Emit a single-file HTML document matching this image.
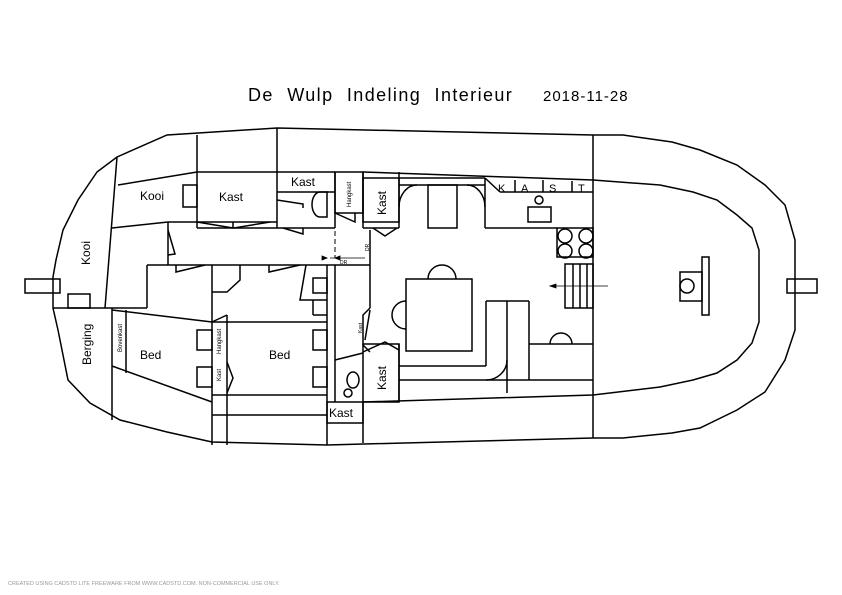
<!DOCTYPE html>
<html><head><meta charset="utf-8"><style>
html,body{margin:0;padding:0;background:#fff}
svg{display:block}
text{font-family:"Liberation Sans",sans-serif;fill:#000}
</style></head><body>
<svg width="842" height="595" viewBox="0 0 842 595" xmlns="http://www.w3.org/2000/svg">
<g fill="none" stroke="#000" stroke-width="1.5" stroke-linejoin="miter">
<polyline points="277,128 167,135 117,157 97,172 78,200 63,230 56,260 53,277 53,308 58,330 68,380 90,403 120,420 167,432 212,442 327,445 593,438 623,438 672,433 700,428 737,410 765,392 785,360 795,330 795,240 785,205 765,185 737,165 700,150 672,142 623,135 593,135 277,128"/>
<polyline points="363,172 593,180 660,185 693,192 717,200 737,215 752,228 759,250 759,322 752,343 737,360 717,373 693,380 660,387 593,395 363,402"/>
<line x1="593" y1="135" x2="593" y2="438"/>
<rect x="25" y="279" width="35" height="14"/>
<rect x="787" y="279" width="30" height="14"/>
<rect x="68" y="294" width="22" height="14"/>
<rect x="680" y="272" width="22" height="29"/>
<circle cx="687" cy="286" r="7"/>
<rect x="702" y="257" width="7" height="58"/>
<line x1="117" y1="157" x2="105" y2="308"/>
<line x1="118" y1="185" x2="197" y2="172"/>
<line x1="112" y1="228" x2="168" y2="222"/>
<line x1="53" y1="308" x2="112" y2="308"/>
<line x1="197" y1="135" x2="197" y2="228"/>
<line x1="277" y1="128" x2="277" y2="228"/>
<line x1="197" y1="172" x2="335" y2="172"/>
<line x1="168" y1="222" x2="277" y2="222"/>
<line x1="197" y1="228" x2="335" y2="228"/>
<rect x="183" y="185" width="14" height="22"/>
<line x1="277" y1="192" x2="335" y2="192"/>
<line x1="335" y1="172" x2="335" y2="228"/>
<path d="M327,192 V217 H320 A8,12.5 0 0 1 320,192 Z"/>
<polyline points="197,222 233,228"/><polyline points="234,228 270,222"/>
<line x1="233" y1="222" x2="233" y2="228"/>
<polyline points="277,200 303,204 303,208"/>
<polyline points="283,228 303,234 303,228"/>
<line x1="147" y1="265" x2="370" y2="265"/>
<line x1="168" y1="222" x2="168" y2="265"/>
<polyline points="168,230 175,254 168,255"/>
<line x1="147" y1="265" x2="147" y2="308"/>
<line x1="112" y1="308" x2="147" y2="308"/>
<polyline points="176,265 176,272 205,265"/>
<polyline points="269,265 269,272 300,265"/>
<polyline points="240,265 240,280 227,292 212,292"/>
<rect x="313" y="278" width="14" height="15"/>
<polyline points="306,265 300,300 327,300"/>
<line x1="313" y1="300" x2="313" y2="315"/>
<line x1="313" y1="315" x2="327" y2="315"/>
<line x1="112" y1="308" x2="112" y2="420"/>
<line x1="126" y1="310" x2="126" y2="373"/>
<line x1="112" y1="310" x2="212" y2="322"/>
<line x1="112" y1="366" x2="212" y2="402"/>
<line x1="212" y1="265" x2="212" y2="445"/>
<line x1="227" y1="315" x2="227" y2="445"/>
<line x1="212" y1="322" x2="327" y2="322"/>
<polyline points="212,322 227,315"/>
<polyline points="227,362 233,378 227,393"/>
<line x1="212" y1="395" x2="327" y2="395"/>
<line x1="212" y1="415" x2="327" y2="415"/>
<line x1="327" y1="265" x2="327" y2="445"/>
<line x1="335" y1="265" x2="335" y2="402"/>
<rect x="197" y="330" width="15" height="20"/>
<rect x="197" y="367" width="15" height="20"/>
<rect x="313" y="330" width="14" height="20"/>
<rect x="313" y="367" width="14" height="20"/>
<rect x="335" y="172" width="28" height="41"/>
<polyline points="335,213 355,222 355,213"/>
<line x1="363" y1="172" x2="363" y2="228"/>
<rect x="363" y="178" width="36" height="44"/>
<line x1="363" y1="228" x2="399" y2="228"/>
<polyline points="373,228 385,236 397,228"/>
<line x1="399" y1="172" x2="399" y2="228"/>
<line x1="399" y1="178" x2="485" y2="178"/>
<line x1="399" y1="185" x2="485" y2="185"/>
<path d="M399,207 A18,22 0 0 1 417,185"/>
<path d="M467,185 A18,22 0 0 1 485,207"/>
<rect x="428" y="185" width="29" height="43"/>
<line x1="485" y1="178" x2="485" y2="228"/>
<line x1="485" y1="228" x2="557" y2="228"/>
<line x1="485" y1="178" x2="500" y2="192"/>
<line x1="500" y1="192" x2="593" y2="192"/>
<line x1="515" y1="180" x2="515" y2="192"/><line x1="543" y1="180" x2="543" y2="192"/><line x1="572" y1="181" x2="572" y2="192"/>
<circle cx="539" cy="200" r="4"/>
<rect x="528" y="207" width="23" height="15"/>
<rect x="557" y="228" width="36" height="29"/>
<circle cx="565" cy="236" r="7"/><circle cx="586" cy="236" r="7"/>
<circle cx="565" cy="251" r="7"/><circle cx="586" cy="251" r="7"/>
<rect x="565" y="264" width="28" height="44"/>
<line x1="573" y1="264" x2="573" y2="308"/><line x1="580" y1="264" x2="580" y2="308"/><line x1="587" y1="264" x2="587" y2="308"/>
<line x1="335" y1="215" x2="335" y2="258" stroke-dasharray="5,3" stroke-width="1"/>
<line x1="370" y1="230" x2="370" y2="308"/>
<polyline points="370,308 363,315 363,345 370,352"/>
<polyline points="370,310 365,340"/>
<rect x="363" y="344" width="36" height="58"/>
<polyline points="363,352 385,342 399,350"/>
<line x1="399" y1="344" x2="399" y2="402"/>
<line x1="335" y1="360" x2="363" y2="353"/>
<ellipse cx="353" cy="380" rx="6" ry="8"/>
<circle cx="348" cy="393" r="4"/>
<rect x="327" y="402" width="36" height="21"/>
<line x1="363" y1="402" x2="363" y2="443"/>
<rect x="406" y="279" width="66" height="72"/>
<path d="M428,279 A14,14 0 0 1 456,279"/>
<path d="M406,301 A14,14 0 0 0 406,329"/>
<line x1="399" y1="366" x2="486" y2="366"/>
<line x1="486" y1="301" x2="486" y2="366"/>
<line x1="486" y1="301" x2="529" y2="301"/>
<line x1="507" y1="301" x2="507" y2="393"/>
<path d="M486,380 A21,20 0 0 0 507,360"/>
<line x1="529" y1="301" x2="529" y2="380"/>
<line x1="529" y1="344" x2="593" y2="344"/>
<path d="M550,344 A11,11 0 0 1 572,344"/>
<line x1="399" y1="380" x2="593" y2="380"/>
</g>
<g stroke="#000" stroke-width="0.8" fill="#000">
<line x1="550" y1="286" x2="608" y2="286"/><path d="M550,286 l6,-2 v4 z"/>
<line x1="330" y1="258" x2="365" y2="258"/>
<path d="M335,258 l5,-2 v4z"/><path d="M327,258 l-5,-2 v4z"/>
<line x1="370" y1="240" x2="370" y2="262"/>
</g>
<g font-size="12">
<text x="140" y="200">Kooi</text>
<text x="219" y="201">Kast</text>
<text x="291" y="186">Kast</text>
<text x="140" y="359">Bed</text>
<text x="269" y="359">Bed</text>
<text x="329" y="417">Kast</text>
<text x="498" y="192" font-size="11">K</text>
<text x="521" y="192" font-size="11">A</text>
<text x="549" y="192" font-size="11">S</text>
<text x="578" y="192" font-size="11">T</text>
<text transform="translate(90,265) rotate(-90)">Kooi</text>
<text transform="translate(91,365) rotate(-90)">Berging</text>
<text transform="translate(386,215) rotate(-90)">Kast</text>
<text transform="translate(386,390) rotate(-90)">Kast</text>
</g>
<g font-size="6">
<text transform="translate(122,352) rotate(-90)">Bovenkast</text>
<text transform="translate(221,354) rotate(-90)">Hangkast</text>
<text transform="translate(221,381) rotate(-90)">Kast</text>
<text transform="translate(351,207) rotate(-90)">Hangkast</text>
<text x="340" y="264" font-size="5">DR</text>
<text transform="translate(369,251) rotate(-90)" font-size="5">DR</text>
<text transform="translate(362,333) rotate(-90)" font-size="5">Kast</text>
</g>
<text x="248" y="101" font-size="18" letter-spacing="1.4" word-spacing="7">De Wulp Indeling Interieur</text>
<text x="543" y="101" font-size="15" letter-spacing="1">2018-11-28</text>
<text x="8" y="585" font-size="5.5" style="fill:#999">CREATED USING CADSTD LITE FREEWARE FROM WWW.CADSTD.COM. NON-COMMERCIAL USE ONLY.</text>
</svg>
</body></html>
